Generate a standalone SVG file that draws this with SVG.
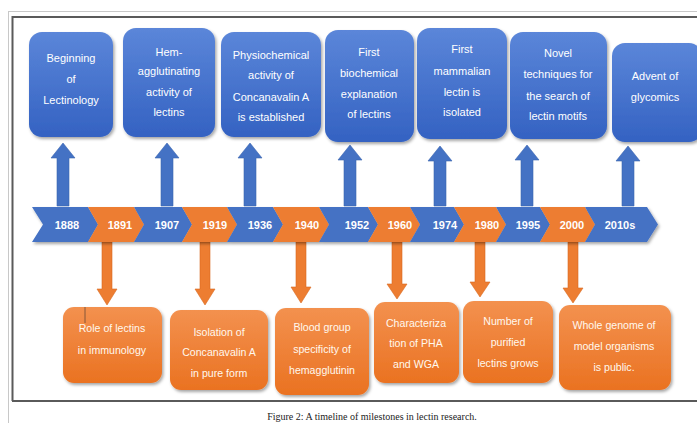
<svg xmlns="http://www.w3.org/2000/svg" width="697" height="423" viewBox="0 0 697 423">
<defs>
<linearGradient id="gb" x1="0" y1="0" x2="0" y2="1"><stop offset="0" stop-color="#5b86d9"/><stop offset="1" stop-color="#3462c2"/></linearGradient>
<linearGradient id="go" x1="0" y1="0" x2="0" y2="1"><stop offset="0" stop-color="#f3914f"/><stop offset="1" stop-color="#ea7221"/></linearGradient>
<filter id="sh" x="-10%" y="-10%" width="130%" height="130%"><feDropShadow dx="1.5" dy="2" stdDeviation="1.5" flood-color="#000" flood-opacity="0.35"/></filter>
</defs>
<style>
.bt{fill:#fff;font-family:"Liberation Sans",Arial,sans-serif;font-size:11px;text-anchor:middle}
.ot{fill:#fff8ee;font-family:"Liberation Sans",Arial,sans-serif;font-size:10.6px;text-anchor:middle}
.yr{fill:#fff;font-family:"Liberation Sans",Arial,sans-serif;font-size:11px;font-weight:bold;text-anchor:middle}
.bb{fill:url(#gb);filter:url(#sh)}
.ob{fill:url(#go);filter:url(#sh)}
.ba{fill:#4472c4;stroke:#3a64b0;stroke-width:0.6}
.oa{fill:#ed7d31;stroke:#d96a20;stroke-width:0.6}
.cb{fill:#4472c4}
.co{fill:#ed7d31}
</style>
<rect width="697" height="423" fill="#fff"/>
<g id="frame" fill="none">
<path d="M8 11.5H697M8.5 11V423" stroke="#c8c8c8" stroke-width="1"/>
<path d="M12 17H697M12.5 16V401M12 401H697" stroke="#5a5a5a" stroke-width="2"/>
</g>
<g id="connectors">
<path class="ba" d="M57 206V158H51L63 143L75 158H69V206Z"/>
<path class="ba" d="M161 206V158H155L167 143L179 158H173V206Z"/>
<path class="ba" d="M244 206V158H238L250 143L262 158H256V206Z"/>
<path class="ba" d="M344 206V160H338L350 145L362 160H356V206Z"/>
<path class="ba" d="M434 206V161H428L440 146L452 161H446V206Z"/>
<path class="ba" d="M521 206V160H515L527 145L539 160H533V206Z"/>
<path class="ba" d="M622 206V161H616L628 146L640 161H634V206Z"/>
<path class="oa" d="M102 242V289H97L107 305L117 289H112V242Z"/>
<path class="oa" d="M200 242V289H195L205 305L215 289H210V242Z"/>
<path class="oa" d="M296 242V287H291L301 303L311 287H306V242Z"/>
<path class="oa" d="M392 242V284H387L397 299L407 284H402V242Z"/>
<path class="oa" d="M475 242V282H470L480 297L490 282H485V242Z"/>
<path class="oa" d="M568 242V288H563L573 303L583 288H578V242Z"/>
</g>
<g id="timeline" filter="url(#sh)">
<polygon class="cb" points="32,207 88,207 98,224.5 88,242 32,242 43,224.5"/>
<polygon class="co" points="88,207 134,207 144,224.5 134,242 88,242 98,224.5"/>
<polygon class="cb" points="134,207 182,207 192,224.5 182,242 134,242 144,224.5"/>
<polygon class="co" points="182,207 227,207 237,224.5 227,242 182,242 192,224.5"/>
<polygon class="cb" points="227,207 273,207 283,224.5 273,242 227,242 237,224.5"/>
<polygon class="co" points="273,207 319,207 329,224.5 319,242 273,242 283,224.5"/>
<polygon class="cb" points="319,207 368,207 378,224.5 368,242 319,242 329,224.5"/>
<polygon class="co" points="368,207 410,207 420,224.5 410,242 368,242 378,224.5"/>
<polygon class="cb" points="410,207 454,207 464,224.5 454,242 410,242 420,224.5"/>
<polygon class="co" points="454,207 496,207 506,224.5 496,242 454,242 464,224.5"/>
<polygon class="cb" points="496,207 540,207 550,224.5 540,242 496,242 506,224.5"/>
<polygon class="co" points="540,207 585,207 595,224.5 585,242 540,242 550,224.5"/>
<polygon class="cb" points="585,207 647,207 658,224.5 647,242 585,242 595,224.5"/>
</g>
<g id="years">
<text class="yr" x="67" y="228.5">1888</text>
<text class="yr" x="120" y="228.5">1891</text>
<text class="yr" x="167" y="228.5">1907</text>
<text class="yr" x="215" y="228.5">1919</text>
<text class="yr" x="260" y="228.5">1936</text>
<text class="yr" x="307" y="228.5">1940</text>
<text class="yr" x="357" y="228.5">1952</text>
<text class="yr" x="400" y="228.5">1960</text>
<text class="yr" x="445" y="228.5">1974</text>
<text class="yr" x="487" y="228.5">1980</text>
<text class="yr" x="528" y="228.5">1995</text>
<text class="yr" x="572" y="228.5">2000</text>
<text class="yr" x="620" y="228.5">2010s</text>
</g>
<g id="n1888"><rect class="bb" x="29" y="32" width="84" height="105" rx="13"/>
<text class="bt" x="71" y="62">Beginning</text><text class="bt" x="71" y="83">of</text><text class="bt" x="71" y="104">Lectinology</text></g>
<g id="n1907"><rect class="bb" x="123" y="28" width="92" height="109" rx="13"/>
<text class="bt" x="169" y="56">Hem-</text><text class="bt" x="169" y="75">agglutinating</text><text class="bt" x="169" y="96">activity of</text><text class="bt" x="169" y="116">lectins</text></g>
<g id="n1936"><rect class="bb" x="221" y="32" width="100" height="105" rx="13"/>
<text class="bt" x="271" y="59">Physiochemical</text><text class="bt" x="271" y="79">activity of</text><text class="bt" x="271" y="101">Concanavalin A</text><text class="bt" x="271" y="121">is established</text></g>
<g id="n1952"><rect class="bb" x="325" y="30" width="89" height="112" rx="13"/>
<text class="bt" x="369" y="56">First</text><text class="bt" x="369" y="77">biochemical</text><text class="bt" x="369" y="98">explanation</text><text class="bt" x="369" y="118">of lectins</text></g>
<g id="n1974"><rect class="bb" x="417" y="28" width="90" height="111" rx="13"/>
<text class="bt" x="462" y="53">First</text><text class="bt" x="462" y="75">mammalian</text><text class="bt" x="462" y="96">lectin is</text><text class="bt" x="462" y="116">isolated</text></g>
<g id="n1995"><rect class="bb" x="510" y="32" width="97" height="107" rx="13"/>
<text class="bt" x="558" y="57">Novel</text><text class="bt" x="558" y="78">techniques for</text><text class="bt" x="558" y="100">the search of</text><text class="bt" x="558" y="120">lectin motifs</text></g>
<g id="n2010s"><rect class="bb" x="612" y="43" width="90" height="99" rx="13"/>
<text class="bt" x="655" y="80">Advent of</text><text class="bt" x="655" y="101">glycomics</text></g>
<g id="n1891"><rect class="ob" x="63" y="307" width="99" height="76" rx="11"/>
<text class="ot" x="112" y="332">Role of lectins</text><text class="ot" x="112" y="354">in immunology</text>
<line x1="85" y1="307" x2="85" y2="323" stroke="#6b4a35" stroke-width="0.8"/></g>
<g id="n1919"><rect class="ob" x="170" y="310" width="98" height="80" rx="11"/>
<text class="ot" x="219" y="336">Isolation of</text><text class="ot" x="219" y="356">Concanavalin A</text><text class="ot" x="219" y="377">in pure form</text></g>
<g id="n1940"><rect class="ob" x="275" y="308" width="94" height="87" rx="11"/>
<text class="ot" x="322" y="331">Blood group</text><text class="ot" x="322" y="353">specificity of</text><text class="ot" x="322" y="374">hemagglutinin</text></g>
<g id="n1960"><rect class="ob" x="374" y="302" width="85" height="81" rx="11"/>
<text class="ot" x="416" y="327">Characteriza</text><text class="ot" x="416" y="347">tion of PHA</text><text class="ot" x="416" y="368">and WGA</text></g>
<g id="n1980"><rect class="ob" x="463" y="301" width="90" height="82" rx="11"/>
<text class="ot" x="508" y="325">Number of</text><text class="ot" x="508" y="346">purified</text><text class="ot" x="508" y="367">lectins grows</text></g>
<g id="n2000"><rect class="ob" x="559" y="305" width="112" height="85" rx="11"/>
<text class="ot" x="614" y="329">Whole genome of</text><text class="ot" x="614" y="350">model organisms</text><text class="ot" x="614" y="371">is public.</text></g>
<text x="372" y="420" font-family="'Liberation Serif','Times New Roman',serif" font-size="10px" text-anchor="middle" fill="#222">Figure 2: A timeline of milestones in lectin research.</text>
</svg>
